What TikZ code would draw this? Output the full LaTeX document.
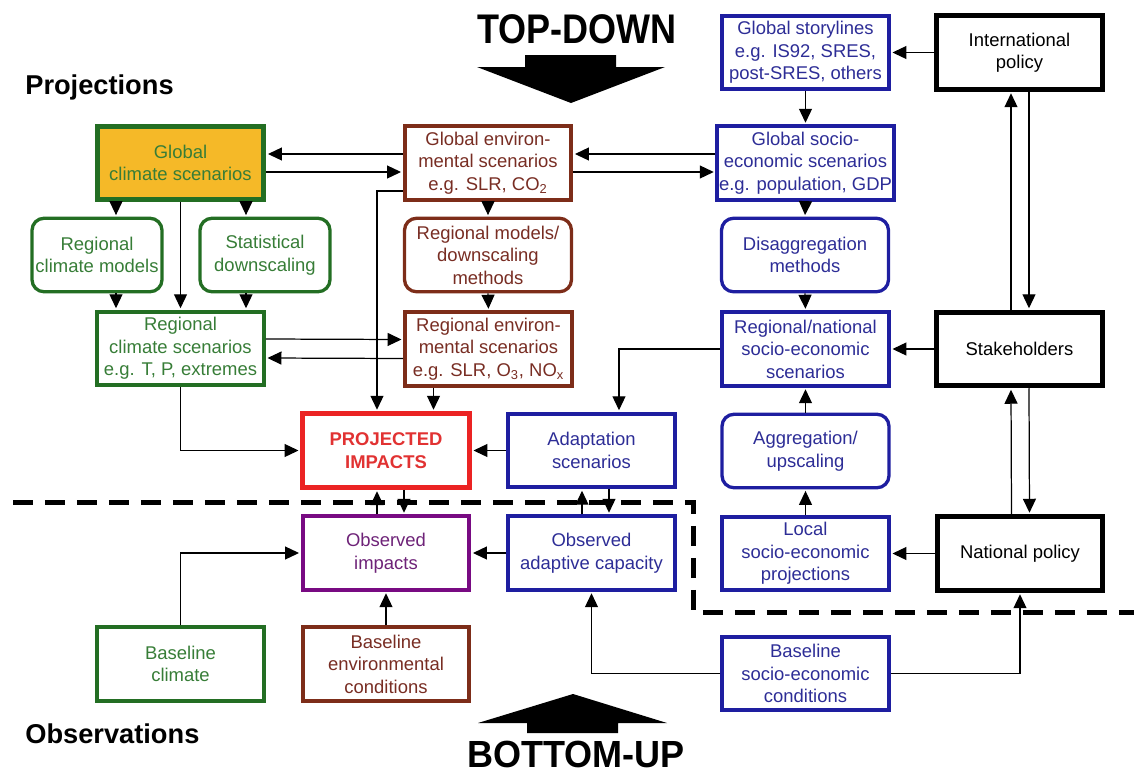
\documentclass[tikz,border=0pt]{standalone}
\usepackage{fontspec}
\setmainfont{Liberation Sans}
\usepackage{xcolor}
\usetikzlibrary{arrows.meta}

\definecolor{grn}{RGB}{35,110,35}
\definecolor{grntxt}{RGB}{55,125,55}
\definecolor{orng}{RGB}{245,185,40}
\definecolor{brwn}{RGB}{125,45,25}
\definecolor{brwntxt}{RGB}{120,45,35}
\definecolor{blu}{RGB}{30,30,160}
\definecolor{blutxt}{RGB}{45,45,150}
\definecolor{purp}{RGB}{120,10,130}
\definecolor{purptxt}{RGB}{110,35,120}
\definecolor{rd}{RGB}{235,35,35}
\definecolor{rdtxt}{RGB}{225,50,50}

\begin{document}
\begin{tikzpicture}[x=0.02cm,y=-0.02cm,
	box/.style={draw,line width=0.08cm,minimum width=3.34cm,minimum height=1.47cm,
		inner sep=1pt,align=center,font=\fontsize{10.5}{12.8}\selectfont},
	rbox/.style={box,line width=0.066cm,rounded corners=0.24cm},
	clim/.style={draw=grn,text=grntxt},
	env/.style={draw=brwn,text=brwntxt},
	soc/.style={draw=blu,text=blutxt},
	pol/.style={box,draw=black,line width=0.1cm,minimum width=3.32cm},
	conn/.style={->,line width=0.7pt,shorten >=0.03cm},
	>={Triangle[length=2.8mm,width=2.6mm]}]
		\useasboundingbox (0,0) rectangle (1134,775);
		%
		% projections
		\node[box,clim,fill=orng,line width=0.1cm] (GCS) at (180.5,163) {Global\\climate scenarios};
		\node[rbox,clim,minimum width=2.6cm] (RCM) at (97,255) {Regional\\climate models};
		\node[rbox,clim,minimum width=2.6cm] (SD) at (265,255) {Statistical\\downscaling};
		\node[box,clim] (RCS) at (180.5,348.5) {Regional\\climate scenarios\\e.g. T, P, extremes};
		\node[box,env] (GES) at (488,163) {Global environ-\\mental scenarios\\e.g. SLR, CO\textsubscript{2}};
		\node[rbox,env] (RMD) at (488,255) {Regional models/\\downscaling\\methods};
		\node[box,env] (RES) at (488.5,349) {Regional environ-\\mental scenarios\\e.g. SLR, O\textsubscript{3}, NO\textsubscript{x}};
		\node[box,soc] (GSt) at (805.5,52.5) {Global storylines\\e.g. IS92, SRES,\\post-SRES, others};
		\node[box,soc] (GSS) at (805.5,163) {Global socio-\\economic scenarios\\e.g. population, GDP};
		\node[rbox,soc] (DM) at (805,255) {Disaggregation\\methods};
		\node[box,soc] (RNS) at (805.5,349) {Regional/national\\socio-economic\\scenarios};
		\node[rbox,soc] (AU) at (805.5,451) {Aggregation/\\upscaling};
		\node[box,soc] (LSP) at (805.5,553.5) {Local\\socio-economic\\projections};
		\node[pol] (IP) at (1019.5,52.5) {International\\policy};
		\node[pol] (ST) at (1019.5,349) {Stakeholders};
		\node[pol] (NP) at (1020,553.5) {National policy};
		\node[box,draw=rd,text=rdtxt,line width=0.1cm,font=\fontsize{10.5}{12.8}\selectfont\bfseries] (PI) at (386,450.5) {PROJECTED\\IMPACTS};
		\node[box,soc] (AS) at (591.5,450.5) {Adaptation\\scenarios};
		%
		% observations
		\node[box,draw=purp,text=purptxt] (OI) at (386,553) {Observed\\impacts};
		\node[box,soc] (OAC) at (591.5,553) {Observed\\adaptive capacity};
		\node[box,clim] (BC) at (180.5,664) {Baseline\\climate};
		\node[box,env] (BEC) at (386,664) {Baseline\\environmental\\conditions};
		\node[box,soc] (BSC) at (805.5,673.5) {Baseline\\socio-economic\\conditions};
		%
		\node[anchor=base west,inner sep=0pt,font=\fontsize{15.5}{15.5}\selectfont\bfseries] (proj) at (25,94) {Projections};
		\node[anchor=base west,inner sep=0pt,font=\fontsize{15.5}{15.5}\selectfont\bfseries] (obs) at (25,743) {Observations};
		\node[anchor=base,inner sep=0pt,font=\fontsize{20.5}{20.5}\selectfont\bfseries] (td) at (577,43) {\scalebox{1}[1.15]{TOP-DOWN}};
		\node[anchor=base,inner sep=0pt,font=\fontsize{20.5}{20.5}\selectfont\bfseries] (bu) at (576,767) {\scalebox{1}[1.05]{BOTTOM-UP}};
		%
		\fill (525,55) -- (616,55) -- (616,67) -- (665,67) -- (571,103) -- (477,67) -- (525,67) -- cycle;
		\fill (527,733) -- (618,733) -- (618,723) -- (667,723) -- (573,694) -- (478,723) -- (527,723) -- cycle;
		\draw[line width=0.1cm,dash pattern=on 0.4cm off 0.24cm] (13,502) -- (693,502) -- (693,612) -- (1134,612);
		%
		\draw[conn] ([yshift=.18cm]GES.west) -- ([yshift=.18cm]GCS.east);
		\draw[conn] ([yshift=-.18cm]GCS.east) -- ([yshift=-.18cm]GES.west);
		\draw[conn] ([yshift=.18cm]GSS.west) -- ([yshift=.18cm]GES.east);
		\draw[conn] ([yshift=-.18cm]GES.east) -- ([yshift=-.18cm]GSS.west);
		\draw[conn] ([yshift=-.56cm]GES.west) -| ([xshift=-.18cm]PI.north);
		\draw[conn] ([xshift=.38cm]RCM.north |- GCS.south) -- ([xshift=.38cm]RCM.north);
		\draw[conn] ([xshift=-.38cm]SD.north |- GCS.south) -- ([xshift=-.38cm]SD.north);
		\draw[conn] (GCS.south) -- (RCS.north);
		\draw[conn] ([xshift=.38cm]RCM.south) -- ([xshift=.38cm]RCM.south |- RCS.north);
		\draw[conn] ([xshift=-.38cm]SD.south) -- ([xshift=-.38cm]SD.south |- RCS.north);
		\draw[conn] ([yshift=.19cm]RCS.east) -- ([yshift=.19cm]RES.west);
		\draw[conn] ([yshift=-.19cm]RES.west) -- ([yshift=-.19cm]RCS.east);
		\draw[conn] (GES.south) -- (RMD.north);
		\draw[conn] (RMD.south) -- (RES.north);
		\draw[conn] (RCS.south) |- (PI.west);
		\draw[conn] ([xshift=-1.1cm]RES.south) -- ([xshift=-1.1cm]RES.south |- PI.north);
		\draw[conn] (AS.west) -- (PI.east);
		\draw[conn] (RNS.west) -| ([xshift=.55cm]AS.north);
		\draw[conn] (IP.west) -- (GSt.east);
		\draw[conn] (GSt.south) -- (GSS.north);
		\draw[conn] (GSS.south) -- (DM.north);
		\draw[conn] (DM.south) -- (RNS.north);
		\draw[conn] (ST.west) -- (RNS.east);
		\draw[conn] ([xshift=-.17cm]ST.north) -- ([xshift=-.17cm]IP.south);
		\draw[conn] ([xshift=.19cm]IP.south) -- ([xshift=.19cm]ST.north);
		\draw[conn] ([xshift=-.17cm]NP.north) -- ([xshift=-.17cm]ST.south);
		\draw[conn] ([xshift=.19cm]ST.south) -- ([xshift=.19cm]NP.north);
		\draw[conn] (AU.north) -- (RNS.south);
		\draw[conn] (LSP.north) -- (AU.south);
		\draw[conn] (NP.west) -- (LSP.east);
		\draw[conn] ([xshift=-.18cm]OI.north) -- ([xshift=-.18cm]PI.south);
		\draw[conn] ([xshift=.36cm]PI.south) -- ([xshift=.36cm]OI.north);
		\draw[conn] ([xshift=-.19cm]OAC.north) -- ([xshift=-.19cm]AS.south);
		\draw[conn] ([xshift=.35cm]AS.south) -- ([xshift=.35cm]OAC.north);
		\draw[conn] (OAC.west) -- (OI.east);
		\draw[conn] (BC.north) |- (OI.west);
		\draw[conn] (BEC.north) -- (OI.south);
		\draw[conn] (BSC.west) -| (OAC.south);
		\draw[conn] (BSC.east) -| (NP.south);
\end{tikzpicture}
\end{document}
